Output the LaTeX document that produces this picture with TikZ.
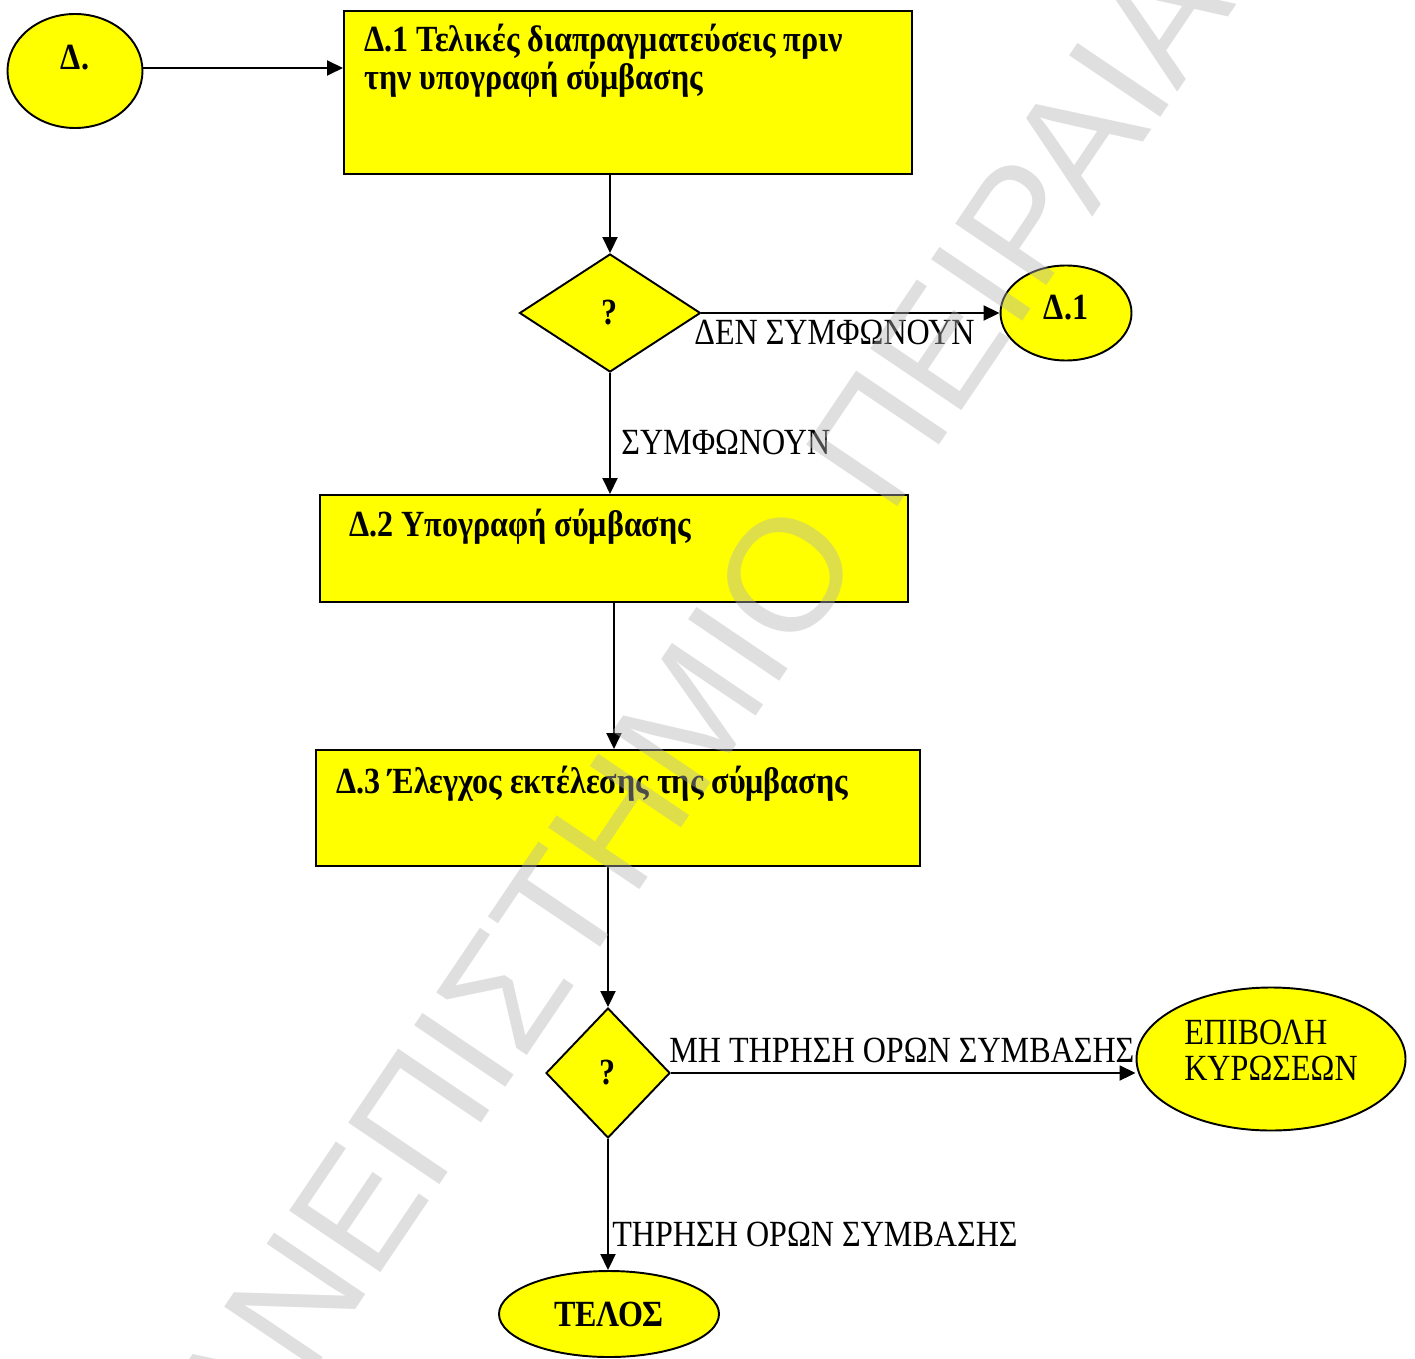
\documentclass[tikz,border=0pt]{standalone}
\usepackage{fontspec}
\setmainfont{Liberation Serif}[FakeStretch=0.87]
\newfontfamily\wmfont{Liberation Sans}
\usetikzlibrary{shapes.geometric,arrows.meta,positioning}
\definecolor{boxyellow}{RGB}{255,255,0}

\tikzset{
  conn/.style={line width=1.1pt,-{Triangle[length=0.32cm,width=0.3cm]}},
  stepbox/.style={draw,fill=boxyellow,line width=1.1pt,rectangle,inner sep=0pt,anchor=north west},
  decis/.style={draw,fill=boxyellow,line width=1.1pt,diamond,inner sep=0pt,font=\fontsize{21}{24}\selectfont\bfseries},
  term/.style={draw,fill=boxyellow,line width=1.1pt,ellipse,inner sep=0pt,font=\fontsize{21}{24}\selectfont\bfseries},
  boxtext/.style={inner sep=0pt,anchor=north west,align=left,font=\fontsize{21}{21.6}\selectfont\bfseries},
  lbl/.style={inner sep=0pt,anchor=base west,font=\fontsize{21}{24}\selectfont},
  wm/.style={inner sep=0pt,text=black!30,text opacity=0.42,font=\fontsize{91}{91}\selectfont\wmfont}
}

\begin{document}
\begin{tikzpicture}[x=0.02cm,y=-0.02cm]
\useasboundingbox (0,0) rectangle (1415,1358);

\node[term,text depth=15pt,minimum width=135*0.02cm,minimum height=114*0.02cm] (start) at (75,71) {Δ.};
\node[stepbox,minimum width=568*0.02cm,minimum height=163*0.02cm] (d1) at (343,10) {};
\node[boxtext] (d1txt) at (364,24) {Δ.1 Τελικές διαπραγματεύσεις πριν\\την υπογραφή σύμβασης};

\node[decis,minimum width=181*0.02cm,minimum height=118*0.02cm] (q1) at (610,313) {?};
\node[term,text depth=6pt,minimum width=131*0.02cm,minimum height=95*0.02cm] (dd1) at (1066,313) {Δ.1};

\node[stepbox,minimum width=588*0.02cm,minimum height=107*0.02cm] (d2) at (319,494) {};
\node[boxtext] (d2txt) at (349,509) {Δ.2 Υπογραφή σύμβασης};

\node[stepbox,minimum width=604*0.02cm,minimum height=116*0.02cm] (d3) at (315,749) {};
\node[boxtext] (d3txt) at (336,766) {Δ.3 Έλεγχος εκτέλεσης της σύμβασης};

\node[decis,minimum width=124*0.02cm,minimum height=130*0.02cm] (q2) at (608,1073) {?};
\node[term,font=\fontsize{21}{20}\selectfont,align=left,text depth=10pt,minimum width=269*0.02cm,minimum height=143*0.02cm] (pen) at (1271,1059) {ΕΠΙΒΟΛΗ\\ΚΥΡΩΣΕΩΝ};
\node[term,minimum width=220*0.02cm,minimum height=86*0.02cm] (end) at (609,1314) {ΤΕΛΟΣ};

\draw[conn] (start.east |- 0,68) -- (d1.west |- 0,68);
\draw[conn] (q1.north |- d1.south) -- (q1.north);
\draw[conn] (q1.east) -- (dd1.west);
\draw[conn] (q1.south) -- (q1.south |- d2.north);
\draw[conn] (d2.south) -- (d2.south |- d3.north);
\draw[conn] (q2.north |- d3.south) -- (q2.north);
\draw[conn] (q2.east) -- (q2.east -| pen.west);
\draw[conn] (q2.south) -- (q2.south |- end.north);

\node[lbl] (nono) at (694,344) {ΔΕΝ ΣΥΜΦΩΝΟΥΝ};
\node[lbl] (yes) at (621,454) {ΣΥΜΦΩΝΟΥΝ};
\node[lbl] (breach) at (669,1062) {ΜΗ ΤΗΡΗΣΗ ΟΡΩΝ ΣΥΜΒΑΣΗΣ};
\node[lbl] (kept) at (612,1246) {ΤΗΡΗΣΗ ΟΡΩΝ ΣΥΜΒΑΣΗΣ};

\begin{scope}
\clip (0,0) rectangle (1415,1358);
\node[wm,rotate=56] (wmark) at (665,753) {ΠΑΝΕΠΙΣΤΗΜΙΟ ΠΕΙΡΑΙΑ};
\end{scope}
\end{tikzpicture}
\end{document}
